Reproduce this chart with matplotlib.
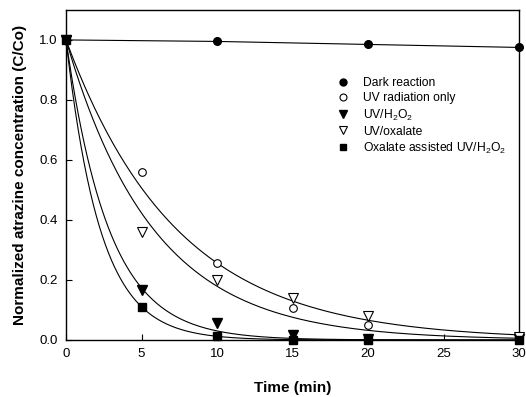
import numpy as np
import matplotlib
matplotlib.use("Agg")
import matplotlib.pyplot as plt
from matplotlib.lines import Line2D

plt.rcParams["font.family"] = ["Liberation Sans", "DejaVu Sans"]
plt.rcParams["mathtext.default"] = "regular"

# sampled times (min)
time_dark = [0, 10, 20, 30]
time = [0, 5, 10, 15, 20, 30]

dark = [1.0, 0.995, 0.985, 0.975]
uv_only = [1.0, 0.56, 0.255, 0.105, 0.05, 0.01]
uv_h2o2 = [1.0, 0.165, 0.055, 0.015, 0.003, 0.003]
uv_oxalate = [1.0, 0.36, 0.20, 0.14, 0.08, 0.01]
ox_uv_h2o2 = [1.0, 0.11, 0.012, 0.0, 0.0, 0.0]

# first-order fit rate constants (1/min)
k_fit = {"uv_only": 0.136, "uv_oxalate": 0.172, "uv_h2o2": 0.35, "ox_uv_h2o2": 0.44}

labels = ["Dark reaction", "UV radiation only", "UV/H$_2$O$_2$",
          "UV/oxalate", "Oxalate assisted UV/H$_2$O$_2$"]

fig = plt.figure(figsize=(5.26, 3.97), dpi=100)
ax = fig.add_axes([0.1255, 0.1436, 0.8612, 0.8314])

t_fit = np.linspace(0, 30, 300)
for k in k_fit.values():
    ax.plot(t_fit, np.exp(-k * t_fit), color="black", lw=0.8)

ax.plot(time_dark, dark, color="black", lw=0.8)

ms = 5.5
ax.plot(time_dark, dark, "o", color="black", ms=ms, clip_on=False, zorder=5)
ax.plot(time, uv_only, "o", mfc="white", mec="black", mew=0.8, ms=ms, clip_on=False, zorder=5)
ax.plot(time, uv_h2o2, "v", color="black", ms=ms + 1, clip_on=False, zorder=5)
ax.plot(time, uv_oxalate, "v", mfc="white", mec="black", mew=0.8, ms=ms + 1, clip_on=False, zorder=5)
ax.plot(time, ox_uv_h2o2, "s", color="black", ms=ms, clip_on=False, zorder=6)

handles = [
    Line2D([], [], ls="none", marker="o", color="black", ms=5),
    Line2D([], [], ls="none", marker="o", mfc="white", mec="black", mew=0.8, ms=5),
    Line2D([], [], ls="none", marker="v", color="black", ms=6),
    Line2D([], [], ls="none", marker="v", mfc="white", mec="black", mew=0.8, ms=6),
    Line2D([], [], ls="none", marker="s", color="black", ms=5),
]
ax.legend(handles, labels, loc="upper left", bbox_to_anchor=(0.587, 0.81),
          frameon=False, fontsize=8.7, handlelength=1.0, handletextpad=1.2,
          labelspacing=0.25, borderaxespad=0)

ax.set_xlim(0, 30)
ax.set_ylim(0, 1.1)
ax.set_xticks([0, 5, 10, 15, 20, 25, 30])
ax.set_yticks([0.0, 0.2, 0.4, 0.6, 0.8, 1.0])
ax.set_yticklabels(["0.0", "0.2", "0.4", "0.6", "0.8", "1.0"])
ax.tick_params(direction="in", length=4, width=0.8, labelsize=9.5, pad=6)
for s in ax.spines.values():
    s.set_linewidth(1.0)

ax.set_xlabel("Time (min)", fontsize=11, fontweight="bold", labelpad=15)
ax.set_ylabel("Normalized atrazine concentration (C/Co)", fontsize=11,
              fontweight="bold", labelpad=9)

fig.savefig("out.png", dpi=100)
